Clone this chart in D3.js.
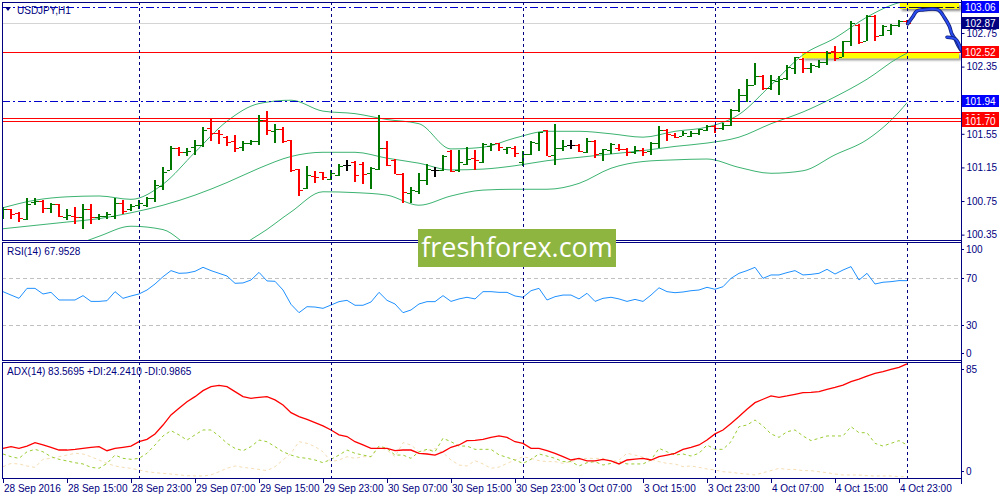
<!DOCTYPE html>
<html lang="en">
<head>
<meta charset="UTF-8">
<title>USDJPY,H1</title>
<style>
  body { margin: 0; background: #fff; }
  svg { display: block; font-family: "Liberation Sans", Arial, sans-serif; }
</style>
</head>
<body>
<div id="chart"></div>
<script src="https://cdn.jsdelivr.net/npm/d3@7/dist/d3.min.js"></script>
<script>
  // ---------- data (hourly bars, 28 Sep 07:00 .. 5 Oct 00:00) ----------
  const opens = [100.58, 100.65, 100.61, 100.54, 100.74, 100.75, 100.67, 100.71, 100.56, 100.57,
    100.56, 100.66, 100.56, 100.57, 100.57, 100.73, 100.66, 100.70, 100.70, 100.78,
    100.93, 101.12, 101.38, 101.33, 101.39, 101.42, 101.62, 101.56, 101.51, 101.46,
    101.39, 101.44, 101.46, 101.71, 101.58, 101.61, 101.48, 101.13, 100.90, 101.05,
    101.09, 101.01, 101.06, 101.18, 101.22, 101.19, 101.08, 101.13, 101.38, 101.24,
    101.07, 100.84, 100.87, 101.00, 101.12, 101.12, 101.35, 101.12, 101.19, 101.26,
    101.21, 101.40, 101.44, 101.37, 101.38, 101.22, 101.31, 101.44, 101.59, 101.30,
    101.38, 101.42, 101.42, 101.33, 101.47, 101.32, 101.36, 101.38, 101.37, 101.33,
    101.36, 101.35, 101.44, 101.59, 101.54, 101.52, 101.52, 101.56, 101.60, 101.64,
    101.62, 101.66, 101.83, 102.01, 102.13, 102.24, 102.10, 102.18, 102.21, 102.33,
    102.44, 102.33, 102.36, 102.41, 102.53, 102.47, 102.66, 102.85, 102.66, 102.95,
    102.73, 102.79, 102.85, 102.89];
  const highs = [100.68, 100.65, 100.62, 100.78, 100.78, 100.76, 100.73, 100.72, 100.65, 100.68,
    100.72, 100.72, 100.60, 100.62, 100.79, 100.76, 100.72, 100.76, 100.80, 101.00,
    101.15, 101.40, 101.39, 101.38, 101.48, 101.63, 101.73, 101.60, 101.52, 101.53,
    101.46, 101.48, 101.77, 101.82, 101.67, 101.63, 101.48, 101.13, 101.17, 101.11,
    101.10, 101.12, 101.19, 101.24, 101.23, 101.21, 101.16, 101.77, 101.47, 101.25,
    101.08, 100.92, 101.08, 101.19, 101.15, 101.30, 101.36, 101.36, 101.39, 101.36,
    101.44, 101.44, 101.44, 101.39, 101.40, 101.34, 101.46, 101.57, 101.60, 101.67,
    101.48, 101.48, 101.43, 101.50, 101.48, 101.37, 101.44, 101.43, 101.38, 101.40,
    101.38, 101.45, 101.64, 101.61, 101.56, 101.58, 101.58, 101.61, 101.66, 101.66,
    101.68, 101.85, 102.08, 102.20, 102.39, 102.25, 102.25, 102.24, 102.37, 102.47,
    102.45, 102.39, 102.43, 102.53, 102.59, 102.66, 102.89, 102.86, 102.96, 102.96,
    102.85, 102.86, 102.90, 102.90];
  const lows = [100.54, 100.54, 100.50, 100.52, 100.70, 100.61, 100.61, 100.56, 100.52, 100.48,
    100.42, 100.48, 100.52, 100.54, 100.54, 100.60, 100.63, 100.66, 100.68, 100.74,
    100.88, 101.12, 101.28, 101.29, 101.30, 101.39, 101.46, 101.43, 101.41, 101.33,
    101.34, 101.42, 101.42, 101.54, 101.44, 101.44, 101.09, 100.81, 100.89, 100.97,
    101.00, 101.00, 101.05, 101.11, 100.98, 100.95, 100.89, 101.12, 101.17, 101.07,
    100.73, 100.73, 100.83, 100.94, 101.03, 101.11, 101.10, 101.10, 101.18, 101.12,
    101.20, 101.34, 101.34, 101.31, 101.27, 101.17, 101.30, 101.34, 101.28, 101.18,
    101.35, 101.37, 101.33, 101.32, 101.26, 101.23, 101.31, 101.35, 101.29, 101.31,
    101.29, 101.30, 101.38, 101.47, 101.50, 101.52, 101.51, 101.54, 101.58, 101.56,
    101.60, 101.64, 101.81, 101.93, 102.13, 102.07, 102.07, 102.01, 102.19, 102.26,
    102.27, 102.27, 102.33, 102.37, 102.42, 102.46, 102.60, 102.62, 102.65, 102.65,
    102.71, 102.73, 102.82, 102.84];
  const closes = [100.65, 100.60, 100.55, 100.72, 100.75, 100.67, 100.71, 100.57, 100.58, 100.56,
    100.66, 100.56, 100.57, 100.60, 100.73, 100.63, 100.69, 100.73, 100.79, 100.94,
    101.10, 101.38, 101.33, 101.34, 101.42, 101.60, 101.56, 101.55, 101.45, 101.38,
    101.44, 101.46, 101.72, 101.60, 101.61, 101.47, 101.12, 100.88, 101.06, 101.03,
    101.03, 101.08, 101.17, 101.18, 101.06, 101.07, 101.14, 101.38, 101.18, 101.07,
    100.86, 100.88, 101.00, 101.13, 101.12, 101.29, 101.11, 101.21, 101.25, 101.24,
    101.43, 101.43, 101.39, 101.39, 101.32, 101.31, 101.45, 101.57, 101.29, 101.38,
    101.40, 101.42, 101.34, 101.46, 101.31, 101.37, 101.43, 101.37, 101.33, 101.36,
    101.33, 101.44, 101.60, 101.55, 101.51, 101.56, 101.56, 101.61, 101.64, 101.62,
    101.66, 101.83, 102.01, 102.13, 102.24, 102.09, 102.19, 102.20, 102.35, 102.46,
    102.33, 102.37, 102.41, 102.51, 102.45, 102.65, 102.87, 102.64, 102.95, 102.71,
    102.83, 102.85, 102.89, 102.87];

  // Bollinger bands read every 4th bar
  const bandIdx = [0, 4, 8, 12, 16, 20, 24, 28, 32, 36, 40, 44, 48, 52, 56, 60, 64, 68, 72, 76,
    80, 84, 88, 92, 96, 100, 104, 108, 112, 113];
  const bandUpper = [100.67, 100.76, 100.80, 100.81, 100.77, 100.95, 101.33, 101.70, 101.91, 101.95,
    101.82, 101.79, 101.72, 101.67, 101.37, 101.39, 101.50, 101.58, 101.58, 101.55,
    101.51, 101.58, 101.63, 101.78, 102.13, 102.49, 102.69, 102.94, 103.11, 103.13];
  const bandMiddle = [100.42, 100.46, 100.50, 100.54, 100.61, 100.70, 100.82, 100.97, 101.14, 101.28,
    101.33, 101.33, 101.26, 101.20, 101.12, 101.13, 101.17, 101.23, 101.27, 101.31,
    101.35, 101.40, 101.44, 101.51, 101.67, 101.81, 101.99, 102.20, 102.46, 102.51];
  const bandLower = [99.93, 100.07, 100.19, 100.33, 100.45, 100.41, 100.19, 100.17, 100.35, 100.62,
    100.86, 100.85, 100.82, 100.70, 100.81, 100.88, 100.89, 100.89, 100.96, 101.14,
    101.22, 101.24, 101.25, 101.15, 101.08, 101.11, 101.30, 101.48, 101.81, 101.92];

  const rsi = [58.6, 55.7, 52.9, 61.4, 61.4, 56.6, 58.0, 51.5, 51.5, 51.5,
    55.2, 50.3, 50.3, 50.9, 58.6, 52.9, 54.9, 56.6, 60.0, 65.1,
    71.3, 76.5, 74.2, 74.5, 75.9, 79.3, 76.5, 74.2, 71.9, 65.7,
    66.0, 68.5, 75.0, 67.7, 67.4, 60.0, 47.8, 40.7, 45.8, 45.5,
    44.4, 47.2, 50.1, 51.2, 47.0, 47.0, 49.8, 58.0, 51.2, 48.1,
    40.7, 43.0, 48.1, 50.1, 50.1, 55.2, 50.3, 52.4, 53.8, 52.4,
    58.6, 58.6, 58.0, 58.0, 54.9, 53.8, 59.4, 61.4, 51.5, 54.3,
    55.7, 55.7, 52.4, 57.2, 50.3, 52.9, 53.8, 52.4, 50.3, 52.0,
    50.3, 55.7, 61.9, 58.6, 57.7, 58.3, 59.4, 60.0, 62.3, 60.6,
    62.8, 69.9, 74.2, 76.5, 79.3, 69.9, 72.8, 72.8, 74.8, 76.5,
    72.8, 73.3, 74.2, 77.6, 73.6, 77.0, 79.9, 68.5, 74.2, 65.1,
    66.6, 67.1, 68.0, 67.95];

  const adx = [21.7, 23.0, 21.7, 23.4, 25.9, 24.2, 22.5, 20.5, 20.5, 21.0,
    21.7, 22.5, 23.0, 20.0, 21.7, 22.5, 23.4, 26.6, 28.3, 32.3,
    38.8, 46.2, 51.1, 55.9, 59.6, 64.0, 66.9, 67.9, 66.9, 63.3,
    59.6, 58.4, 59.1, 59.6, 57.2, 53.5, 47.9, 45.0, 43.0, 40.6,
    38.2, 35.2, 31.6, 30.4, 26.6, 24.2, 21.7, 21.7, 21.7, 20.0,
    20.5, 20.5, 18.1, 17.6, 16.8, 19.2, 22.5, 24.2, 27.4, 27.6,
    28.3, 29.8, 30.8, 29.8, 26.6, 25.4, 21.7, 21.7, 20.0, 18.1,
    15.6, 13.2, 14.4, 12.5, 12.5, 13.7, 12.5, 10.3, 13.2, 13.9,
    14.4, 13.2, 15.6, 16.8, 18.1, 21.0, 22.5, 24.2, 27.8, 32.3,
    35.2, 40.0, 45.0, 50.3, 55.2, 57.7, 60.1, 59.1, 60.1, 61.3,
    62.5, 62.8, 63.3, 65.0, 66.4, 68.1, 70.6, 72.5, 74.7, 76.7,
    77.9, 79.6, 81.1, 83.57];
  const plusDI = [17.6, 15.6, 14.4, 19.2, 21.0, 19.2, 15.6, 13.7, 12.5, 11.2,
    10.3, 7.8, 7.1, 10.7, 16.8, 14.4, 13.7, 14.4, 18.1, 24.2,
    30.8, 34.7, 31.6, 27.8, 31.6, 35.2, 35.2, 30.8, 25.4, 21.7,
    20.0, 23.0, 27.8, 26.6, 23.0, 19.2, 16.8, 15.1, 14.4, 13.2,
    11.2, 13.7, 16.8, 20.5, 18.1, 16.8, 15.6, 23.4, 21.7, 16.8,
    16.8, 14.4, 19.2, 21.0, 19.2, 29.1, 26.6, 23.4, 23.4, 21.0,
    21.0, 21.0, 17.0, 15.1, 13.2, 10.7, 13.7, 17.6, 16.1, 14.4,
    12.0, 12.0, 8.8, 11.2, 12.0, 9.5, 10.7, 12.0, 10.3, 10.3,
    10.3, 13.2, 21.7, 19.2, 16.8, 17.6, 16.1, 18.1, 24.2, 21.0,
    21.0, 26.6, 37.6, 38.8, 42.5, 38.1, 32.3, 29.8, 33.9, 35.2,
    30.8, 27.4, 29.1, 30.8, 30.8, 30.8, 37.6, 33.2, 33.2, 25.4,
    23.4, 25.4, 27.4, 24.24];
  const minusDI = [8.3, 10.7, 10.3, 8.8, 7.8, 13.7, 14.4, 15.6, 16.8, 18.1,
    17.6, 15.6, 13.2, 10.7, 8.8, 7.8, 7.1, 5.9, 4.6, 3.9,
    3.4, 2.9, 2.2, 1.7, 1.5, 1.5, 2.2, 4.6, 7.1, 8.8,
    7.8, 7.1, 6.3, 5.4, 8.3, 13.2, 18.1, 26.6, 25.4, 23.0,
    19.2, 12.0, 13.2, 15.6, 14.4, 15.6, 15.6, 22.5, 20.5, 15.6,
    25.9, 24.2, 19.2, 20.0, 21.7, 18.6, 13.2, 9.5, 8.8, 12.7,
    10.3, 7.1, 8.0, 10.7, 13.2, 15.6, 14.4, 12.7, 12.0, 12.0,
    10.7, 12.0, 13.7, 14.4, 14.4, 14.4, 12.0, 13.2, 18.1, 16.8,
    15.1, 13.7, 12.0, 10.7, 10.3, 8.3, 8.8, 7.8, 6.6, 5.9,
    4.6, 4.2, 3.4, 2.9, 2.2, 3.9, 5.4, 7.1, 6.3, 6.3,
    5.4, 5.4, 4.6, 3.9, 2.9, 2.2, 2.2, 2.2, 1.7, 1.5,
    1.5, 1.5, 1.0, 0.99];

  const timeLabels = ["28 Sep 2016", "28 Sep 15:00", "28 Sep 23:00", "29 Sep 07:00", "29 Sep 15:00",
    "29 Sep 23:00", "30 Sep 07:00", "30 Sep 15:00", "30 Sep 23:00", "3 Oct 07:00",
    "3 Oct 15:00", "3 Oct 23:00", "4 Oct 07:00", "4 Oct 15:00", "4 Oct 23:00"];
  const daySeparators = [17, 41, 65, 89, 113];      // first bar of each new day
  const priceTicks = [100.35, 100.75, 101.15, 101.55, 102.35, 102.75];
  const dashLevels = [103.06, 101.94];               // blue dash-dot lines
  const redLevels = [102.52, 101.74, 101.70];        // red horizontal lines
  const bidPrice = 102.87;
  const rsiLevels = [70, 30];

  // ---------- layout ----------
  const W = 1000, H = 500;
  const LEFT = 2, RIGHT = 961;
  const main = { top: 2, bottom: 240 };
  const pRsi = { top: 242, bottom: 360 };
  const pAdx = { top: 362, bottom: 478 };
  const NAVY = "#000080";

  const svg = d3.select("#chart").append("svg")
    .attr("width", W).attr("height", H);

  const x = d3.scaleLinear().domain([0, 113]).range([3, 907]);
  const y = d3.scaleLinear().domain([100.286, 103.119]).range([main.bottom, main.top]);
  const yRsi = d3.scaleLinear().domain([0, 100]).range([360.5, 243]);
  const yAdx = d3.scaleLinear().domain([0, 85]).range([pAdx.bottom, pAdx.top]);

  // clip paths for each pane
  const defs = svg.append("defs");
  [["clipMain", main], ["clipRsi", pRsi], ["clipAdx", pAdx]].forEach(([id, p]) => {
    defs.append("clipPath").attr("id", id).append("rect")
      .attr("x", LEFT).attr("y", p.top).attr("width", RIGHT - LEFT).attr("height", p.bottom - p.top);
  });
  const shadow = defs.append("filter").attr("id", "shadow")
    .attr("x", "-5%").attr("y", "-50%").attr("width", "115%").attr("height", "300%");
  shadow.append("feDropShadow").attr("dx", 2).attr("dy", 2).attr("stdDeviation", 1.2)
    .attr("flood-color", "#000").attr("flood-opacity", 0.45);

  const gMain = svg.append("g").attr("clip-path", "url(#clipMain)");
  const gRsi = svg.append("g").attr("clip-path", "url(#clipRsi)");
  const gAdx = svg.append("g").attr("clip-path", "url(#clipAdx)");

  // ---------- day separators ----------
  svg.append("g").selectAll("line")
    .data(daySeparators).enter().append("line")
    .attr("x1", d => x(d) + 0.5).attr("x2", d => x(d) + 0.5)
    .attr("y1", main.top).attr("y2", pAdx.bottom)
    .attr("stroke", NAVY).attr("stroke-width", 1).attr("stroke-dasharray", "3,3");

  // ---------- main pane ----------
  // bid line
  gMain.append("line")
    .attr("x1", LEFT).attr("x2", RIGHT)
    .attr("y1", Math.round(y(bidPrice)) + 0.5).attr("y2", Math.round(y(bidPrice)) + 0.5)
    .attr("stroke", "#d4d4d4");

  // highlighted zones (yellow boxes)
  const zones = [
    { i0: 99.9, i1: 119.5, p0: 102.52, p1: 102.45 },
    { i0: 112.1, i1: 119.5, p0: 103.107, p1: 103.036 }
  ];
  gMain.selectAll(".zone").data(zones).enter().append("rect")
    .attr("class", "zone")
    .attr("x", d => x(d.i0)).attr("width", d => x(d.i1) - x(d.i0))
    .attr("y", d => y(d.p0)).attr("height", d => y(d.p1) - y(d.p0))
    .attr("fill", "#ffff00").attr("filter", "url(#shadow)");

  // Bollinger bands
  const bandLine = vals => d3.line()
    .x((d, k) => x(bandIdx[k])).y(d => y(d))
    .curve(d3.curveMonotoneX)(vals);
  [bandUpper, bandMiddle, bandLower].forEach(vals => {
    gMain.append("path").attr("d", bandLine(vals))
      .attr("fill", "none").attr("stroke", "#3cb371").attr("stroke-width", 1);
  });

  // horizontal levels
  gMain.selectAll(".red-level").data(redLevels).enter().append("line")
    .attr("class", "red-level")
    .attr("x1", LEFT).attr("x2", RIGHT)
    .attr("y1", d => Math.round(y(d)) + 0.5).attr("y2", d => Math.round(y(d)) + 0.5)
    .attr("stroke", "#ff0000").attr("stroke-width", 1);
  gMain.selectAll(".dash-level").data(dashLevels).enter().append("line")
    .attr("class", "dash-level")
    .attr("x1", LEFT).attr("x2", RIGHT)
    .attr("y1", d => Math.round(y(d)) + 0.5).attr("y2", d => Math.round(y(d)) + 0.5)
    .attr("stroke", "#0000cd").attr("stroke-width", 1).attr("stroke-dasharray", "8,3,2,3");

  // OHLC bars
  const bars = opens.map((o, i) => ({ i, o, h: highs[i], l: lows[i], c: closes[i] }));
  const barColor = d => d.c > d.o ? "#007800" : (d.c < d.o ? "#ff0000" : "#000000");
  const gBars = gMain.append("g").attr("shape-rendering", "crispEdges");
  const bar = gBars.selectAll("g").data(bars).enter().append("g")
    .attr("fill", barColor);
  bar.append("rect")
    .attr("x", d => Math.round(x(d.i)) - 1).attr("width", 2)
    .attr("y", d => y(d.h)).attr("height", d => Math.max(1, y(d.l) - y(d.h)));
  bar.append("rect")
    .attr("x", d => Math.round(x(d.i)) - 4).attr("width", 3)
    .attr("y", d => Math.round(y(d.o)) - 0.5).attr("height", 1.5);
  bar.append("rect")
    .attr("x", d => Math.round(x(d.i)) + 1).attr("width", 3)
    .attr("y", d => Math.round(y(d.c)) - 0.5).attr("height", 1.5);

  // dark dashes across the top yellow box
  gMain.append("line")
    .attr("x1", x(113.3)).attr("x2", x(119.5))
    .attr("y1", Math.round(y(103.06)) + 0.5).attr("y2", Math.round(y(103.06)) + 0.5)
    .attr("stroke", "#1a1a1a").attr("stroke-width", 1).attr("stroke-dasharray", "9,3");

  // hand-drawn forecast arrow (bar index, price)
  const arrowPts = [[113.1, 102.86], [113.7, 102.94], [114.2, 103.01], [114.9, 103.025],
    [116.9, 103.025], [117.7, 102.93], [118.3, 102.83], [118.6, 102.74], [119.0, 102.68],
    [119.4, 102.60], [119.8, 102.54]];
  const arrowHead = [[118.0, 102.70], [119.1, 102.675], [119.7, 102.56]];
  const arrowLine = d3.line().x(d => x(d[0])).y(d => y(d[1])).curve(d3.curveCatmullRom);
  [arrowPts, arrowHead].forEach(pts => {
    svg.append("path").attr("d", arrowLine(pts))
      .attr("fill", "none").attr("stroke", "#10207a").attr("stroke-width", 3.6)
      .attr("stroke-linecap", "round").attr("stroke-linejoin", "round");
    svg.append("path").attr("d", arrowLine(pts))
      .attr("fill", "none").attr("stroke", "#2a4bf0").attr("stroke-width", 2)
      .attr("stroke-linecap", "round").attr("stroke-linejoin", "round");
  });

  // ---------- RSI pane ----------
  gRsi.selectAll(".lvl").data(rsiLevels).enter().append("line")
    .attr("x1", LEFT).attr("x2", RIGHT)
    .attr("y1", d => Math.round(yRsi(d)) + 0.5).attr("y2", d => Math.round(yRsi(d)) + 0.5)
    .attr("stroke", "#c0c0c0").attr("stroke-dasharray", "4,3");
  gRsi.append("path")
    .attr("d", d3.line().x((d, i) => x(i)).y(d => yRsi(d))(rsi))
    .attr("fill", "none").attr("stroke", "#1e90ff").attr("stroke-width", 1);

  // ---------- ADX pane ----------
  const diLine = d3.line().x((d, i) => x(i)).y(d => yAdx(d));
  gAdx.append("path").attr("d", diLine(minusDI))
    .attr("fill", "none").attr("stroke", "#f5deb3").attr("stroke-width", 1).attr("stroke-dasharray", "3,3");
  gAdx.append("path").attr("d", diLine(plusDI))
    .attr("fill", "none").attr("stroke", "#9acd32").attr("stroke-width", 1).attr("stroke-dasharray", "3,3");
  gAdx.append("path").attr("d", diLine(adx))
    .attr("fill", "none").attr("stroke", "#ff0000").attr("stroke-width", 1.3);

  // ---------- pane frames ----------
  [main, pRsi, pAdx].forEach(p => {
    svg.append("rect")
      .attr("x", LEFT + 0.5).attr("y", p.top + 0.5)
      .attr("width", RIGHT - LEFT).attr("height", p.bottom - p.top)
      .attr("fill", "none").attr("stroke", NAVY).attr("stroke-width", 1);
  });

  // ---------- price axis ----------
  const priceAxis = d3.axisRight(y).tickValues(priceTicks)
    .tickFormat(d3.format(".2f")).tickSize(3).tickPadding(2);
  const gPrice = svg.append("g")
    .attr("transform", `translate(${RIGHT + 0.5},0)`)
    .call(priceAxis);
  gPrice.select(".domain").remove();
  gPrice.selectAll("line").attr("stroke", NAVY);
  gPrice.selectAll("text").attr("fill", NAVY).attr("font-size", 10)
    .attr("font-family", "Liberation Sans, Arial, sans-serif");

  // coloured price tags (101.74 sits mostly under 101.70, as in the terminal)
  const tags = []
    .concat(dashLevels.map(p => ({ p, bg: "#0000ff" })))
    .concat([{ p: bidPrice, bg: "#000080" }])
    .concat(redLevels.map(p => ({ p, bg: "#ff0000" })));
  tags.sort((a, b) => b.p - a.p);
  const tag = svg.append("g").selectAll("g").data(tags).enter().append("g")
    .attr("transform", d => `translate(${RIGHT + 1},${Math.round(y(d.p))})`);
  tag.append("rect").attr("x", 0).attr("y", -6).attr("width", 37).attr("height", 12)
    .attr("fill", d => d.bg);
  tag.append("text").attr("x", 3).attr("y", 4)
    .attr("fill", "#fff").attr("font-size", 10).text(d => d.p.toFixed(2));

  // ---------- oscillator scales ----------
  function sideScale(scale, pane, values) {
    const g = svg.append("g");
    values.forEach(v => {
      const yy = Math.max(pane.top + 7, Math.min(pane.bottom - 7, scale(v)));
      g.append("line").attr("x1", RIGHT).attr("x2", RIGHT + 3)
        .attr("y1", Math.round(yy) + 0.5).attr("y2", Math.round(yy) + 0.5).attr("stroke", NAVY);
      g.append("text").attr("x", RIGHT + 5).attr("y", yy + 3.5)
        .attr("fill", NAVY).attr("font-size", 10).text(v);
    });
  }
  sideScale(yRsi, pRsi, [100, 70, 30, 0]);
  sideScale(yAdx, pAdx, [85, 0]);

  // right edge line
  svg.append("line")
    .attr("x1", RIGHT + 0.5).attr("x2", RIGHT + 0.5).attr("y1", 0).attr("y2", pAdx.bottom + 6)
    .attr("stroke", NAVY);

  // ---------- time axis ----------
  const timeTicks = timeLabels.map((t, k) => ({ t, i: k * 8 }));
  const gTime = svg.append("g");
  gTime.selectAll("line").data(timeTicks).enter().append("line")
    .attr("x1", d => Math.round(x(d.i)) + 0.5).attr("x2", d => Math.round(x(d.i)) + 0.5)
    .attr("y1", pAdx.bottom).attr("y2", pAdx.bottom + 5)
    .attr("stroke", NAVY);
  gTime.selectAll("text").data(timeTicks).enter().append("text")
    .attr("x", d => x(d.i) + 1).attr("y", 492)
    .attr("fill", NAVY).attr("font-size", 10).text(d => d.t);

  // ---------- captions ----------
  svg.append("path").attr("d", "M5,7 L11,7 L8,11 Z").attr("fill", NAVY);
  svg.append("text").attr("x", 17).attr("y", 14).attr("fill", NAVY)
    .attr("font-size", 10).text("USDJPY,H1");
  svg.append("text").attr("x", 7).attr("y", 255).attr("fill", NAVY)
    .attr("font-size", 10).text("RSI(14) 67.9528");
  svg.append("text").attr("x", 7).attr("y", 375).attr("fill", NAVY)
    .attr("font-size", 10).text("ADX(14) 83.5695 +DI:24.2410 -DI:0.9865");

  // ---------- watermark ----------
  svg.append("rect").attr("x", 418).attr("y", 229).attr("width", 198).attr("height", 38)
    .attr("fill", "#8db53f");
  svg.append("text").attr("x", 517).attr("y", 257).attr("text-anchor", "middle")
    .attr("fill", "#fff").attr("font-size", 27).attr("font-family", "Open Sans, sans-serif")
    .text("freshforex.com");
</script>
</body>
</html>
